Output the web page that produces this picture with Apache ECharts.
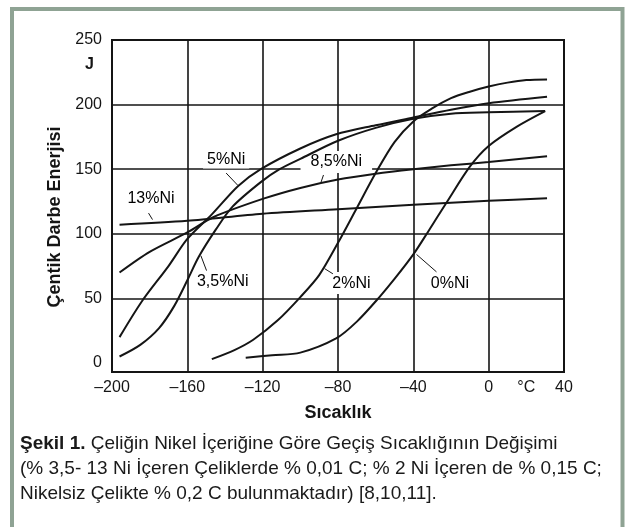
<!DOCTYPE html>
<html><head><meta charset="utf-8">
<script src="https://cdn.jsdelivr.net/npm/echarts@6/dist/echarts.min.js"></script>
<style>html,body{margin:0;padding:0;background:#fff}#c{width:625px;height:527px}</style>
</head><body><div id="c"></div>
<script>
// ---- tick labels ----
const xTickLabels = [-200, -160, -120, -80, -40, 0, 20, 40];
const yTickLabels = [0, 50, 100, 150, 200, 231, 250];
const yGridValues = [50, 100, 150, 200];
const xUnitValue = 20;   // where "°C" is written on the x axis
const yUnitValue = 231;  // where "J" is written on the y axis

// ---- series values: [temperature °C, energy J] ----
const ni13 = [[-196,107],[-160,110],[-120,115.5],[-80,119],[-40,122.5],[0,125.5],[31,127.5]];
const ni85 = [[-196,70],[-180,86],[-160,101],[-146,113],[-120,127],[-100,135.5],[-80,142],[-60,146.5],[-40,150],[-20,153],[0,155.5],[31,160]];
const ni5  = [[-196,20],[-184,48],[-170,75],[-160,96],[-147,115],[-133,137],[-121,150],[-100,166],[-81,177],[-60,184],[-40,190],[-20,196],[0,201],[31,206]];
const ni35 = [[-196,5],[-185,14],[-175,27],[-167,44],[-160,64],[-154,82],[-145,103],[-136,121],[-121,140],[-111,150],[-100,158],[-80,172],[-60,182],[-40,189],[-20,193],[0,194],[30,195]];
const ni2  = [[-147,3],[-135,10],[-125,18],[-112,33],[-100,51],[-90,68],[-80,93],[-70,120],[-60,147],[-50,171],[-40,187],[-30,197],[-20,205],[-10,210],[0,214],[10,217],[20,219],[31,219.5]];
const ni0  = [[-129,4],[-115,6],[-100,8],[-81,19],[-70,32],[-58,51],[-50,65],[-40,84],[-32,102],[-22,125],[-10,152],[0,168],[15,183],[30,195]];

// ---- curve annotations ----
const labelTexts   = ['13%Ni', '5%Ni', '8,5%Ni', '3,5%Ni', '2%Ni', '0%Ni'];
const labelAnchors = [[-179.3,127.5],[-139.4,157.5],[-80.9,155.5],[-141.2,62.6],[-72.9,61.8],[-20.6,61.8]];
const leaderLines  = [
  [[-180.6,116],[-178.5,111]],
  [[-139.4,147],[-133.2,137.5]],
  [[-87.7,145.5],[-89,140]],
  [[-152.8,83],[-149.8,71.5]],
  [[-87.1,73],[-82.7,69]],
  [[-38.3,84],[-27.7,70.5]]
];

const FONT = "'Liberation Sans',Arial,sans-serif";
const INK = '#151515';

const chart = echarts.init(document.getElementById('c'), null, {renderer: 'canvas'});

const curveSeries = [ni13, ni85, ni5, ni35, ni2, ni0].map((d, i) => ({
  type: 'line', data: d, showSymbol: false, smooth: 0.3,
  lineStyle: {color: INK, width: 2}, z: 3, silent: true, name: 's' + i
}));

const leaderSeries = leaderLines.map((d, i) => ({
  type: 'line', data: d, showSymbol: false,
  lineStyle: {color: INK, width: 1}, z: 3, silent: true, name: 'l' + i
}));

const labelPadding = {'8,5%Ni': [3, 10], '5%Ni': [1, 4]};

const labelSeries = {
  type: 'scatter', z: 1, silent: true, symbolSize: 0,
  itemStyle: {color: '#000', opacity: 1},
  data: labelAnchors.map((p, i) => ({
    value: p, name: labelTexts[i],
    label: labelPadding[labelTexts[i]] ? {padding: labelPadding[labelTexts[i]]} : {}
  })),
  label: {
    show: true, position: 'inside', formatter: '{b}', opacity: 1,
    fontFamily: FONT, fontSize: 16, color: '#000',
    textBorderWidth: 0,
    backgroundColor: '#fff', padding: [3, 4]
  }
};

chart.setOption({
  animation: false,
  backgroundColor: '#fff',
  title: {
    left: 15, top: 426,
    text: '{b|Şekil 1.} {n|Çeliğin Nikel İçeriğine Göre Geçiş Sıcaklığının Değişimi}\n' +
          '{n|(% 3,5- 13 Ni İçeren Çeliklerde % 0,01 C; % 2 Ni İçeren de % 0,15 C;}\n' +
          '{n|Nikelsiz Çelikte % 0,2 C bulunmaktadır) [8,10,11].}',
    textStyle: {
      fontFamily: FONT, fontSize: 19, lineHeight: 25, color: '#1a1a1a', fontWeight: 'normal',
      rich: {
        b: {fontFamily: FONT, fontSize: 19, lineHeight: 25, fontWeight: 'bold', color: '#1a1a1a'},
        n: {fontFamily: FONT, fontSize: 19, lineHeight: 25, fontWeight: 'normal', color: '#1a1a1a'}
      }
    }
  },
  graphic: [{
    type: 'rect', silent: true, z: 100,
    shape: {x: 12, y: 9, width: 610.5, height: 540},
    style: {fill: 'none', stroke: '#8fa394', lineWidth: 4}
  }],
  grid: {
    left: 112, top: 40, width: 452, height: 332,
    show: true, borderColor: INK, borderWidth: 2, backgroundColor: 'transparent'
  },
  xAxis: {
    type: 'value', min: -200, max: 40, interval: 40,
    name: 'Sıcaklık', nameLocation: 'middle', nameGap: 32,
    nameTextStyle: {fontFamily: FONT, fontSize: 18, fontWeight: 'bold', color: INK},
    axisLine: {show: false}, axisTick: {show: false},
    axisLabel: {
      customValues: xTickLabels, margin: 8,
      fontFamily: FONT, fontSize: 16, color: INK,
      formatter: v => v === xUnitValue ? '°C' : (v < 0 ? '–' + Math.abs(v) : String(v))
    },
    splitLine: {show: true, lineStyle: {color: INK, width: 1.6}}
  },
  yAxis: {
    type: 'value', min: -7, max: 250,
    name: 'Çentik Darbe Enerjisi', nameLocation: 'middle', nameGap: 44,
    nameTextStyle: {fontFamily: FONT, fontSize: 18, fontWeight: 'bold', color: INK, padding: [0, 22, 0, 0]},
    axisLine: {show: false},
    axisTick: {show: false, customValues: yGridValues},
    axisLabel: {
      customValues: yTickLabels, margin: 10,
      fontFamily: FONT, fontSize: 16, color: INK,
      formatter: v => v === yUnitValue ? '{j|J}' : String(v),
      rich: {j: {fontFamily: FONT, fontSize: 16, fontWeight: 'bold', color: INK, padding: [0, 8, 0, 0]}}
    },
    splitLine: {show: true, lineStyle: {color: INK, width: 1.6}}
  },
  series: [...curveSeries, ...leaderSeries, labelSeries]
});
</script>
</body></html>
